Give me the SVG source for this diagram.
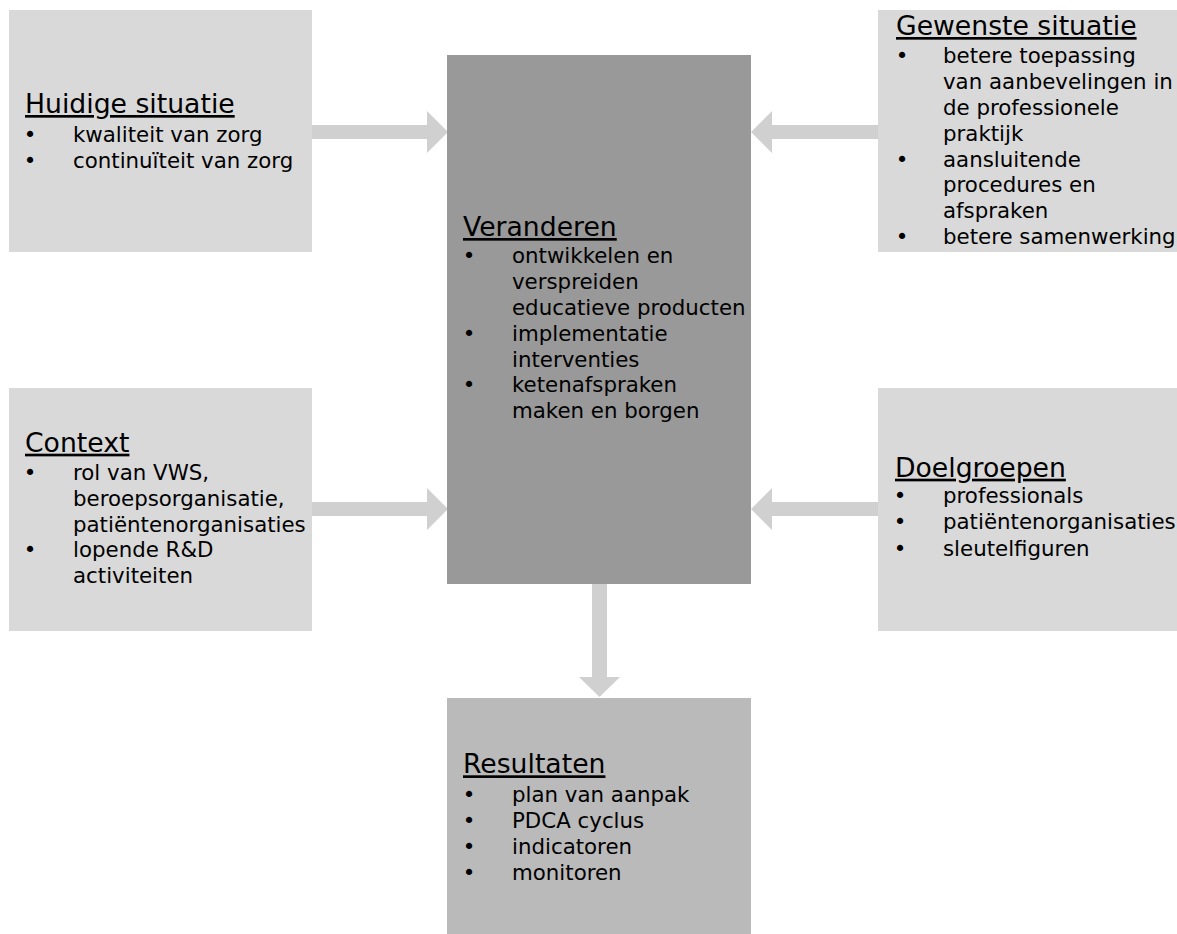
<svg xmlns="http://www.w3.org/2000/svg" width="1177" height="934" viewBox="0 0 1177 934">
<style>
.light{fill:#d9d9d9}
.dark{fill:#999999}
.mid{fill:#bababa}
.arrow{fill:#d0d0d0}
text{font-family:"DejaVu Sans",Verdana,sans-serif;fill:#000}
.t{font-size:26.67px;text-decoration:underline}
.b{font-size:21.33px}
.bul{font-size:21.33px;text-anchor:middle}
</style>
<rect width="1177" height="934" fill="#ffffff"/>
<g id="connectors">
<polygon class="arrow" points="312,125 427,125 427,111 448,132 427,153 427,139 312,139"/>
<polygon class="arrow" points="312,502 427,502 427,488 448,509 427,530 427,516 312,516"/>
<polygon class="arrow" points="878,125 772,125 772,111 751,132 772,153 772,139 878,139"/>
<polygon class="arrow" points="878,502 772,502 772,488 751,509 772,530 772,516 878,516"/>
<polygon class="arrow" points="592,584 607,584 607,677 620,677 599.5,697 579,677 592,677"/>
</g>
<g id="huidige">
<rect class="light" x="9" y="10" width="303" height="242"/>
<text class="t" x="25" y="113">Huidige situatie</text>
<text class="bul" x="30" y="141.7">•</text><text class="b" x="73" y="141.7">kwaliteit van zorg</text>
<text class="bul" x="30" y="167.7">•</text><text class="b" x="73" y="167.7">continuïteit van zorg</text>
</g>
<g id="veranderen">
<rect class="dark" x="447" y="55" width="304" height="529"/>
<text class="t" x="463" y="236">Veranderen</text>
<text class="bul" x="469" y="263.3">•</text><text class="b" x="512" y="263.3">ontwikkelen en</text>
<text class="b" x="512" y="289.1">verspreiden</text>
<text class="b" x="512" y="314.9">educatieve producten</text>
<text class="bul" x="469" y="340.7">•</text><text class="b" x="512" y="340.7">implementatie</text>
<text class="b" x="512" y="366.5">interventies</text>
<text class="bul" x="469" y="392.3">•</text><text class="b" x="512" y="392.3">ketenafspraken</text>
<text class="b" x="512" y="418.1">maken en borgen</text>
</g>
<g id="gewenste">
<rect class="light" x="878" y="10" width="299" height="242"/>
<text class="t" x="896" y="35">Gewenste situatie</text>
<text class="bul" x="902" y="63.3">•</text><text class="b" x="943" y="63.3">betere toepassing</text>
<text class="b" x="943" y="89.1">van aanbevelingen in</text>
<text class="b" x="943" y="114.9">de professionele</text>
<text class="b" x="943" y="140.7">praktijk</text>
<text class="bul" x="902" y="166.5">•</text><text class="b" x="943" y="166.5">aansluitende</text>
<text class="b" x="943" y="192.3">procedures en</text>
<text class="b" x="943" y="218.1">afspraken</text>
<text class="bul" x="902" y="243.9">•</text><text class="b" x="943" y="243.9">betere samenwerking</text>
</g>
<g id="context">
<rect class="light" x="9" y="388" width="303" height="243"/>
<text class="t" x="25" y="451.7">Context</text>
<text class="bul" x="30" y="480">•</text><text class="b" x="73" y="480">rol van VWS,</text>
<text class="b" x="73" y="505.8">beroepsorganisatie,</text>
<text class="b" x="73" y="531.6">patiëntenorganisaties</text>
<text class="bul" x="30" y="557.4">•</text><text class="b" x="73" y="557.4">lopende R&amp;D</text>
<text class="b" x="73" y="583.2">activiteiten</text>
</g>
<g id="doelgroepen">
<rect class="light" x="878" y="388" width="299" height="243"/>
<text class="t" x="895" y="476.7">Doelgroepen</text>
<text class="bul" x="900" y="503.3">•</text><text class="b" x="943" y="503.3">professionals</text>
<text class="bul" x="900" y="529.4">•</text><text class="b" x="943" y="529.4">patiëntenorganisaties</text>
<text class="bul" x="900" y="555.5">•</text><text class="b" x="943" y="555.5">sleutelfiguren</text>
</g>
<g id="resultaten">
<rect class="mid" x="447" y="698" width="304" height="236"/>
<text class="t" x="463" y="773.3">Resultaten</text>
<text class="bul" x="469" y="801.7">•</text><text class="b" x="512" y="801.7">plan van aanpak</text>
<text class="bul" x="469" y="827.8">•</text><text class="b" x="512" y="827.8">PDCA cyclus</text>
<text class="bul" x="469" y="853.9">•</text><text class="b" x="512" y="853.9">indicatoren</text>
<text class="bul" x="469" y="880">•</text><text class="b" x="512" y="880">monitoren</text>
</g>
</svg>
